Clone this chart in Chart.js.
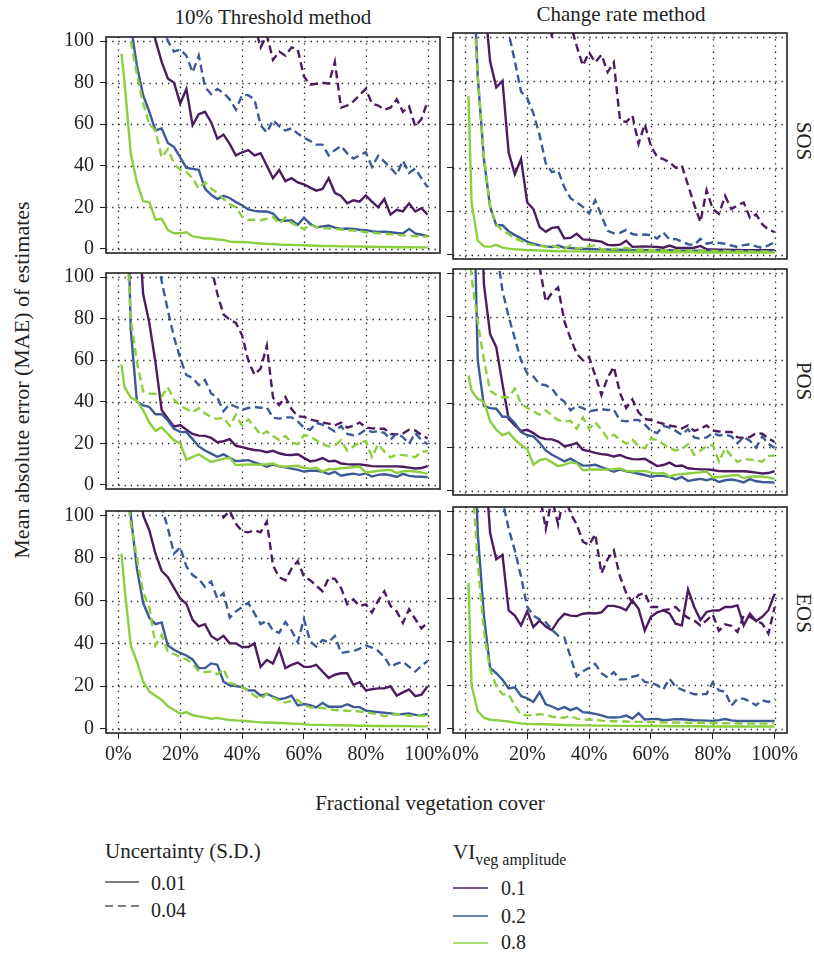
<!DOCTYPE html>
<html>
<head>
<meta charset="utf-8">
<title>MAE of phenology estimates vs fractional vegetation cover</title>
<script src="https://cdn.jsdelivr.net/npm/chart.js@4.4.1/dist/chart.umd.min.js"></script>
<style>
  html, body { margin: 0; padding: 0; background: #fff; }
  body { position: relative; width: 814px; height: 953px; overflow: hidden;
         font-family: "Liberation Serif", "DejaVu Serif", serif; color: #222; }
  canvas { position: absolute; }
  .t { position: absolute; white-space: nowrap; line-height: 1; }
  .c { transform: translate(-50%, -50%); }
  .l { transform: translateY(-50%); }
  .up { transform: translate(-50%, -50%) rotate(-90deg); }
  .down { transform: translate(-50%, -50%) rotate(90deg); }
  svg { position: absolute; overflow: visible; }
</style>
</head>
<body>

<div class="t c" style="left:273px; top:17px; font-size:21px;">10% Threshold method</div>
<div class="t c" style="left:621px; top:14px; font-size:21px;">Change rate method</div>

<div class="t down" style="left:803px; top:141px; font-size:21px;">SOS</div>
<div class="t down" style="left:803px; top:381px; font-size:21px;">POS</div>
<div class="t down" style="left:803px; top:613px; font-size:21px;">EOS</div>

<div class="t up" style="left:22px; top:380px; font-size:22px;">Mean absolute error (MAE) of estimates</div>
<div class="t c" style="left:430px; top:803px; font-size:21px;">Fractional vegetation cover</div>

<!-- legend: uncertainty -->
<div class="t l" style="left:105px; top:851px; font-size:21px;">Uncertainty (S.D.)</div>
<svg style="left:105px; top:881px;" width="34" height="2"><line x1="0" y1="1" x2="34" y2="1" stroke="#555" stroke-width="1.5"/></svg>
<div class="t l" style="left:151px; top:883px; font-size:20px;">0.01</div>
<svg style="left:105px; top:905px;" width="34" height="2"><line x1="0" y1="1" x2="34" y2="1" stroke="#555" stroke-width="1.5" stroke-dasharray="8 5"/></svg>
<div class="t l" style="left:151px; top:910px; font-size:20px;">0.04</div>

<!-- legend: amplitude -->
<div class="t l" style="left:453px; top:852px; font-size:21px;">VI<span style="font-size:16px; position:relative; top:6px;">veg amplitude</span></div>
<svg style="left:453px; top:887px;" width="35" height="2"><line x1="0" y1="1" x2="35" y2="1" stroke="#4b1c5f" stroke-width="1.5"/></svg>
<div class="t l" style="left:501px; top:888px; font-size:20px;">0.1</div>
<svg style="left:453px; top:915px;" width="35" height="2"><line x1="0" y1="1" x2="35" y2="1" stroke="#3c5a96" stroke-width="1.5"/></svg>
<div class="t l" style="left:501px; top:916px; font-size:20px;">0.2</div>
<svg style="left:453px; top:942px;" width="35" height="2"><line x1="0" y1="1" x2="35" y2="1" stroke="#8ccf3e" stroke-width="1.5"/></svg>
<div class="t l" style="left:501px; top:942px; font-size:20px;">0.8</div>

<script>
// fractional vegetation cover (%) at which MAE was evaluated
const fvc = [1, 2, 4, 6, 8, 10, 12, 14, 16, 18, 20, 22, 24, 26, 28, 30, 32, 34, 36, 38, 40,
  42, 44, 46, 48, 50, 52, 54, 56, 58, 60, 62, 64, 66, 68, 70, 72, 74, 76, 78, 80,
  82, 84, 86, 88, 90, 92, 94, 96, 98, 100];

const xTicks = [0, 20, 40, 60, 80, 100];
const yTicks = [0, 20, 40, 60, 80, 100];

// ---- 10% threshold method, SOS ----
const thrSos_a08_sd01 = [94, 80,
  46, 32, 23, 22.5, 14, 14.5, 9, 7.5, 7.5,
  8, 6, 5.5, 5, 5, 4.5, 4.3, 3.5, 3.3, 3.3,
  3.1, 2.8, 2.6, 2.4, 2.3, 2.1, 2, 1.9, 1.8, 1.7,
  1.6, 1.5, 1.4, 1.3, 1.3, 1.2, 1.2, 1.1, 1.1, 1,
  1, 0.9, 0.9, 0.9, 0.8, 0.8, 0.8, 0.7, 0.7, 0.7];
const thrSos_a08_sd04 = [160, 130,
  100, 84, 70, 60, 57, 44, 48, 41, 38,
  37, 34, 29, 32, 29, 27, 24, 21.5, 20, 15.5,
  14, 14, 13.8, 14.5, 15.5, 12, 15, 12.5, 11, 9.5,
  11.5, 10.5, 10, 9.8, 9.5, 9.3, 9, 8.8, 8.6, 8,
  7.8, 7.5, 7.3, 7, 6.8, 6.5, 6.3, 6.1, 6, 5.8];
const thrSos_a02_sd01 = [200, 160,
  108, 88, 74, 66, 57, 58, 51, 49, 44,
  39, 38.5, 38, 29, 26, 24, 25.5, 24.5, 22.5, 21,
  19, 18.3, 18, 18, 17, 13.8, 13.5, 13.8, 11.6, 15,
  12, 10.4, 10.8, 11.2, 10.2, 9.6, 9.8, 9.6, 9.2, 9,
  8.5, 8.1, 8.3, 8, 7.6, 7.4, 9.6, 7.4, 6.8, 6.1];
const thrSos_a02_sd04 = [250, 230,
  200, 175, 155, 140, 125, 110, 100, 95, 96,
  93, 85, 93, 78, 74.5, 77, 75, 72, 67, 74,
  74, 72, 59.5, 56, 62, 59, 57, 58, 55.5, 53.5,
  52, 50.2, 50.2, 45, 47.5, 49.5, 46, 43.5, 45, 46.5,
  39.5, 44.8, 42, 39, 35.7, 42.5, 36.5, 38.7, 34, 29.6];
const thrSos_a01_sd01 = [300, 270,
  220, 180, 150, 115, 100.5, 90, 82, 80, 70,
  77, 59.5, 64.8, 66, 61, 53, 55, 50.5, 45, 46.5,
  47.5, 45, 46, 40, 34, 38, 32.6, 34, 32, 31,
  29.5, 28, 28.8, 34, 27, 25.5, 22, 23.4, 22.7, 25.7,
  22.7, 20, 24, 16.5, 18.8, 18, 21.9, 18, 19.6, 16.5];
const thrSos_a01_sd04 = [400, 380,
  350, 320, 300, 280, 260, 240, 225, 210, 200,
  190, 180, 170, 160, 150, 140, 135, 128, 122, 118,
  112, 108, 97, 103, 91, 95, 93, 97, 96, 83,
  79, 79.5, 80, 79.5, 90, 68, 69, 71, 74, 77,
  70, 69, 67, 68, 72, 66, 68.6, 59, 62.5, 71];

// ---- change rate method, SOS ----
const chgSos_a08_sd01 = [73, 24,
  6.5, 3.8, 3.6, 4.5, 3.2, 2.8, 2.5, 2.3, 2.1,
  2, 1.9, 1.8, 1.7, 1.6, 1.6, 1.5, 1.5, 1.5, 1.4,
  1.4, 1.4, 1.3, 1.3, 1.3, 1.3, 1.2, 1.2, 1.2, 1.2,
  1.2, 1.1, 1.1, 1.1, 1.1, 1.1, 1.1, 1, 1, 1,
  1, 1, 1, 1, 1, 1, 1, 1, 1, 1];
const chgSos_a08_sd04 = [180, 130,
  82, 45, 22, 14, 11, 9.5, 7.5, 6.3, 5,
  4.5, 4.2, 3.6, 4.2, 3.4, 2.6, 4.3, 2.8, 3.2, 3.8,
  4.3, 2.5, 2.4, 2.6, 2.8, 3.1, 2.4, 2.2, 2.4, 2.1,
  2.2, 2, 2.1, 1.9, 2, 1.8, 1.9, 1.7, 1.8, 1.7,
  1.6, 1.7, 1.5, 1.6, 1.5, 1.5, 1.4, 1.5, 1.4, 1.4];
const chgSos_a02_sd01 = [200, 150,
  82, 44, 22, 13.5, 13.5, 10.8, 9, 7.5, 6,
  5, 4.3, 3.8, 3.5, 4.2, 3.2, 3, 2.8, 2.7, 2.6,
  2.5, 2.3, 2.4, 2.2, 2.3, 2.2, 2.1, 2.2, 2, 2.1,
  2, 1.9, 2, 1.9, 1.8, 1.9, 1.8, 1.8, 1.7, 1.8,
  1.7, 1.7, 1.7, 1.6, 1.7, 1.6, 1.6, 1.6, 1.6, 1.6];
const chgSos_a02_sd04 = [300, 280,
  240, 210, 180, 150, 125, 102, 89, 75, 72,
  65, 55, 42, 38, 38.7, 31, 26, 24, 22, 19,
  25, 18, 11, 9.8, 10, 11.4, 9.5, 9, 9.3, 9,
  7.4, 10.2, 7, 7.2, 6, 4.8, 4.4, 7.3, 5, 5.6,
  5.4, 5, 4.2, 3.5, 4.4, 4.8, 3.8, 3.1, 4.3, 5.8];
const chgSos_a01_sd01 = [300, 250,
  170, 120, 89, 77, 80, 47, 37, 44, 24,
  21, 12.7, 10.5, 12.3, 12.7, 7.5, 7.7, 9.6, 7, 6.8,
  6.4, 6, 4.5, 4.3, 4.6, 6.4, 3.6, 3.7, 3.8, 3.7,
  3.5, 3.2, 4.2, 3.2, 3.1, 3.1, 3.2, 4, 2.5, 2.4,
  2.3, 2.3, 2.2, 2.2, 2.1, 2.1, 2, 2, 2, 2];
const chgSos_a01_sd04 = [400, 380,
  350, 330, 310, 290, 270, 250, 235, 220, 205,
  190, 160, 130, 99.5, 130, 125, 106, 96, 87, 93,
  88.5, 92, 84, 88.5, 62, 61, 64, 51, 60, 50,
  45, 44, 42.5, 40, 41, 32, 23, 15, 29.6, 21,
  18.8, 27, 21, 22.7, 24, 17, 18.5, 14, 11.5, 10.4];

// ---- 10% threshold method, POS ----
const thrPos_a08_sd01 = [58, 47,
  42, 40.5, 36, 30, 26, 27.7, 24.5, 21.5, 20,
  12, 13.5, 14.7, 12.8, 11, 11.8, 12.6, 13, 9.5, 9.7,
  9.8, 9.8, 9.7, 9.9, 10.3, 9, 8.7, 9, 9.2, 8.2,
  7.8, 8.2, 6.4, 7.5, 7.6, 8, 8.2, 8.5, 8.8, 6,
  6.3, 6.7, 7, 7.2, 5.7, 6.5, 6.7, 6.4, 6, 5.3];
const thrPos_a08_sd04 = [180, 140,
  80, 59, 45, 44, 43.8, 42.5, 47, 41, 38,
  36.5, 35, 37, 34.5, 32.5, 31.8, 32.2, 28.5, 33.7, 28.5,
  31.5, 28, 24, 25.7, 23.5, 21.6, 23.5, 20.5, 19.5, 23.9,
  23.3, 21.5, 19.5, 18.5, 19, 21.4, 16.5, 18.5, 20.4, 21,
  13.4, 19.5, 16, 13.2, 14.6, 14.3, 13.9, 13.3, 16, 16.2];
const thrPos_a02_sd01 = [250, 200,
  75, 40, 38.3, 37.5, 34, 34, 31, 27, 25.5,
  25.4, 22, 18.5, 16.5, 15, 13.5, 14.7, 13, 11.5, 11.6,
  11.9, 10.8, 9.8, 8.7, 9.8, 8.9, 8.4, 7.8, 7.2, 6.4,
  6.8, 6.8, 6.3, 5.2, 6.3, 4.4, 5, 5.4, 4.8, 5.5,
  4, 4.8, 5.1, 4.6, 3.8, 5.3, 4.3, 4, 3.9, 3.7];
const thrPos_a02_sd04 = [280, 260,
  220, 190, 160, 140, 120, 98, 84, 71, 61,
  52.8, 51.5, 48, 50.5, 44, 42, 35.5, 38.8, 37.6, 36.1,
  37, 37.5, 37.1, 37.3, 32.3, 31.9, 32.5, 32.5, 30.5, 27.5,
  26.5, 29.8, 29, 27.5, 25.7, 28.3, 24.5, 23.9, 24.5, 26.6,
  25.4, 25.8, 25, 21.8, 24.8, 23, 19.8, 25, 21.5, 19.6];
const thrPos_a01_sd01 = [300, 270,
  200, 140, 92, 78, 59, 36, 32, 28, 28.8,
  26.5, 24.5, 23.7, 23.6, 22.6, 20.5, 21, 22, 18.8, 18.2,
  17.4, 16.8, 16.5, 15.7, 16.4, 15.2, 14.5, 14.4, 14.7, 13,
  11.3, 11.8, 12.9, 11.3, 11.6, 10.3, 10, 9.8, 9.8, 9.5,
  9, 8.9, 8.9, 8.9, 8.9, 8.7, 8.3, 7.9, 8.1, 9];
const thrPos_a01_sd04 = [500, 470,
  420, 380, 340, 310, 280, 250, 225, 200, 180,
  165, 150, 138, 115, 105, 92, 82, 79.5, 78, 72,
  60, 53, 56, 67, 42, 38.4, 42.3, 36.5, 33, 32.7,
  31.5, 30.8, 30, 29.5, 28.6, 30, 27.5, 28.5, 30, 27.7,
  27.2, 27, 27, 24.5, 24.3, 24.7, 26.5, 26.2, 24, 22.4];

// ---- change rate method, POS ----
const chgPos_a08_sd01 = [53, 46,
  42.3, 41, 32, 28, 25.5, 26.8, 23.5, 21, 19,
  12, 14, 14.7, 13, 11.3, 12, 13, 12.6, 9.4, 9.7,
  9.8, 9.6, 9.8, 9.9, 10.2, 9.1, 8.8, 9, 9.1, 8.3,
  7.9, 8.1, 6.5, 7.4, 7.6, 7.9, 8.2, 8.4, 8.8, 6.1,
  6.3, 6.6, 7, 7.2, 5.8, 6.4, 6.6, 6.4, 6.1, 5.4];
const chgPos_a08_sd04 = [120, 98,
  78, 60, 46, 44, 43, 43, 47, 40, 38,
  36.5, 35, 37, 34.5, 32.5, 31.8, 32.2, 28.5, 33.7, 28.5,
  31.5, 28, 24, 25.7, 23.5, 21.6, 23.5, 20.5, 19.5, 23.9,
  23.3, 21.5, 19.5, 18.5, 19, 21.4, 16.5, 18.5, 20.4, 21,
  13.4, 19.5, 16, 13.2, 14.6, 14.3, 13.9, 13.3, 16, 16.2];
const chgPos_a02_sd01 = [250, 180,
  60, 39, 38, 37.7, 34, 34, 31, 27, 25.5,
  25, 22, 18.5, 16.5, 15, 13.5, 14.7, 13, 11.5, 11.6,
  11.9, 10.8, 9.8, 8.7, 9.8, 8.9, 8.4, 7.8, 7.2, 6.4,
  6.8, 6.8, 6.3, 5.2, 6.3, 4.4, 5, 5.4, 4.8, 5.5,
  4, 4.8, 5.1, 4.6, 3.8, 5.3, 4.3, 4, 3.9, 3.7];
const chgPos_a02_sd04 = [250, 230,
  190, 165, 140, 112, 92, 80, 70, 60, 54,
  52.5, 49, 48.5, 47, 43, 41, 37, 39, 38, 36.5,
  37, 37.5, 37.1, 37.3, 32.3, 31.9, 32.5, 32.5, 30.5, 27.5,
  26.5, 29.8, 29, 27.5, 25.7, 28.3, 24.5, 23.9, 24.5, 26.6,
  25.4, 25.8, 25, 21.8, 24.8, 23, 19.8, 25, 21.5, 19.6];
const chgPos_a01_sd01 = [300, 250,
  170, 95, 72, 66, 49, 33, 30, 27.5, 28,
  26.5, 24.5, 23.7, 23.6, 22.6, 20.5, 21, 22, 18.8, 18.2,
  17.4, 16.8, 16.5, 15.7, 16.4, 15.2, 14.5, 14.4, 14.7, 13,
  11.3, 11.8, 12.9, 11.3, 11.6, 10.3, 10, 9.8, 9.8, 9.5,
  9, 8.9, 8.9, 8.9, 8.9, 8.7, 8.3, 7.9, 8.1, 9];
const chgPos_a01_sd04 = [400, 380,
  340, 300, 270, 240, 210, 185, 165, 150, 135,
  120, 103, 87, 91, 93.5, 78, 70, 63, 60, 61.5,
  53, 44, 52, 57, 45, 38, 42, 36, 33, 32.5,
  31.5, 30.8, 30, 29.5, 28.6, 30, 27.5, 28.5, 30, 27.7,
  27.2, 27, 27, 24.5, 24.3, 24.7, 26.5, 26.2, 24, 22.4];

// ---- 10% threshold method, EOS ----
const thrEos_a08_sd01 = [82, 66,
  39, 31.4, 22, 17.5, 15.5, 13.5, 10.5, 8.8, 7,
  7.8, 6.3, 5.8, 5.3, 4.7, 5.1, 4.5, 4.1, 3.9, 3.8,
  3.5, 3.2, 3, 2.9, 2.8, 2.7, 2.6, 2.4, 2.3, 2.1,
  1.9, 1.8, 1.8, 1.7, 1.6, 1.6, 1.5, 1.5, 1.4, 1.4,
  1.3, 1.3, 1.3, 1.2, 1.2, 1.2, 1.2, 1.1, 1.1, 1.1];
const thrEos_a08_sd04 = [150, 120,
  96, 80, 64, 57, 39, 44, 36, 35, 33.5,
  32.5, 30.5, 27, 26.5, 26.8, 25.5, 28, 21.5, 20.5, 19.5,
  17.8, 15.5, 14, 16.4, 14.5, 13.2, 12.3, 13, 13.5, 11,
  10, 9.9, 9.7, 9.2, 8.8, 8.6, 8.4, 8.3, 8.1, 7.8,
  7.2, 6.8, 5.8, 6.4, 6.9, 6.5, 6.1, 6.2, 6.1, 6.1];
const thrEos_a02_sd01 = [200, 150,
  100, 75, 59, 52, 49, 49.8, 39, 37, 35.5,
  34.3, 32.5, 28.4, 28.4, 30.6, 30, 22, 20.3, 20, 19.5,
  18, 17.9, 15.5, 16.4, 15, 13.8, 14.3, 15.5, 10.9, 11.6,
  11, 10, 12.1, 10.3, 10.3, 10.3, 11.5, 10.2, 10.1, 8.5,
  8.1, 7.8, 7.5, 7.2, 6.8, 6.9, 7.2, 6.5, 6.3, 6.9];
const thrEos_a02_sd04 = [250, 230,
  200, 175, 155, 140, 120, 104, 94, 82, 85,
  76, 72, 70, 66.5, 69, 61, 63.5, 52, 55, 57,
  59, 54, 49, 50.6, 46, 45, 50, 46, 40.6, 51.4,
  41, 38.5, 41.5, 40.6, 43.5, 35.5, 36, 36.3, 37.5, 39,
  38, 36.5, 33.5, 29, 30.5, 31.4, 29, 26.8, 29.5, 31.7];
const thrEos_a01_sd01 = [300, 260,
  200, 140, 100, 93, 82, 74, 71, 66, 61,
  58.5, 51, 48, 49, 43.5, 41.5, 43.5, 40, 40, 38.3,
  38.3, 40, 29, 32.2, 30.5, 37.5, 28.4, 29.9, 31, 29,
  29, 29.9, 26.8, 23.8, 25.3, 26, 26, 20.6, 21.8, 18,
  18.5, 18.9, 18.9, 19.9, 15.5, 17, 18.4, 15.3, 16, 19.9];
const thrEos_a01_sd04 = [500, 470,
  420, 380, 340, 300, 270, 240, 215, 195, 175,
  160, 145, 135, 125, 115, 105, 99, 102, 96, 92.5,
  92, 93, 92, 97, 76.5, 71, 69.5, 75, 78.5, 71.3,
  69.6, 67, 64.4, 70.6, 70.2, 66, 58.3, 60.6, 57.5, 58.3,
  54.4, 60, 64.4, 57.5, 55, 49.5, 56, 51.4, 47, 49.8];

// ---- change rate method, EOS ----
const chgEos_a08_sd01 = [67, 20,
  8, 5, 4.1, 3.9, 3.6, 3.3, 2.8, 2.4, 2.2,
  2.1, 2, 2, 1.9, 1.8, 1.7, 1.6, 1.5, 1.5, 1.5,
  1.4, 1.4, 1.4, 1.3, 1.3, 1.3, 1.3, 1.2, 1.2, 1.2,
  1.2, 1.2, 1.1, 1.1, 1.1, 1.1, 1.1, 1.1, 1, 1,
  1, 1, 1, 1, 1, 1, 1, 1, 1, 1];
const chgEos_a08_sd04 = [160, 120,
  76, 45, 27, 19.5, 15.8, 15.8, 10.5, 6.5, 6.1,
  6.2, 6.7, 6.3, 5.6, 5, 5.1, 5.8, 4.6, 4.2, 4.1,
  4.1, 3.7, 3.5, 3.4, 3.3, 3.3, 3.2, 3.1, 3.1, 3,
  3, 2.9, 2.9, 2.8, 2.8, 2.7, 2.7, 2.7, 2.6, 2.6,
  2.5, 2.5, 2.5, 2.4, 2.4, 2.4, 2.4, 2.3, 2.3, 2.3];
const chgEos_a02_sd01 = [250, 180,
  90, 52, 28, 25.5, 22.5, 18.5, 19, 15, 13.9,
  12.3, 16.8, 11.2, 10.2, 8.8, 9.9, 8.5, 9.6, 7.6, 7.3,
  6.8, 6.1, 5.2, 5.1, 5.3, 6, 4.6, 7.1, 4.2, 4.4,
  4.5, 3.9, 4.1, 4.4, 4.3, 4.1, 3.9, 3.8, 3.7, 3.6,
  3.9, 4.4, 3.8, 3.5, 3.6, 3.5, 3.5, 3.5, 3.5, 3.5];
const chgEos_a02_sd04 = [250, 230,
  200, 175, 150, 128, 105, 92, 82, 70, 56,
  52, 50.3, 49, 45.5, 42.8, 42, 33, 24, 26.4, 28,
  29.8, 25.5, 23.5, 26, 22.6, 22.8, 23.9, 24.5, 21.5, 21,
  20, 18, 23, 19.2, 18, 16.8, 15.8, 15.8, 16, 21.3,
  17.6, 17, 10.5, 13.8, 13.8, 12.5, 10.8, 13, 12.3, 13.8];
const chgEos_a01_sd01 = [300, 260,
  190, 130, 90, 78, 80, 54.4, 52, 47.5, 54,
  46.8, 49.8, 47, 45.3, 49.8, 52.8, 52, 51.8, 52.9, 53.2,
  53, 53.5, 56.5, 56.5, 55.8, 54.5, 59, 55.2, 45.2, 51.5,
  53.5, 54.4, 53, 48.3, 47.5, 64, 56, 50, 53.7, 54.4,
  54.4, 56, 56, 56.7, 47.5, 52.9, 49.5, 51.5, 54.5, 62];
const chgEos_a01_sd04 = [400, 380,
  340, 300, 260, 230, 200, 180, 160, 145, 132,
  125, 108, 92, 106, 94, 108, 99, 94, 86, 84.5,
  89.5, 71.5, 78, 82, 70, 62.5, 58, 61.5, 62.5, 56,
  56, 54.5, 55, 56, 53, 51, 49.8, 47.5, 49.8, 52.5,
  45, 48, 47.3, 44.5, 52, 51.4, 49.8, 48.3, 43.7, 56];

// line colours per VI amplitude (0.8, 0.2, 0.1) and dash per S.D. (0.01, 0.04)
const ampColors = ['#8ccf3e', '#3c5a96', '#4b1c5f'];
const sdDash = [[], [8, 4.5]];

// panel boxes in page pixels
const colLeft = [106, 453];
const rowTop = [33, 269, 507];
const boxW = 334;
const boxH = 226;

const panels = [
  { row: 0, col: 0, lines: [thrSos_a08_sd01, thrSos_a08_sd04, thrSos_a02_sd01, thrSos_a02_sd04, thrSos_a01_sd01, thrSos_a01_sd04] },
  { row: 0, col: 1, lines: [chgSos_a08_sd01, chgSos_a08_sd04, chgSos_a02_sd01, chgSos_a02_sd04, chgSos_a01_sd01, chgSos_a01_sd04] },
  { row: 1, col: 0, lines: [thrPos_a08_sd01, thrPos_a08_sd04, thrPos_a02_sd01, thrPos_a02_sd04, thrPos_a01_sd01, thrPos_a01_sd04] },
  { row: 1, col: 1, lines: [chgPos_a08_sd01, chgPos_a08_sd04, chgPos_a02_sd01, chgPos_a02_sd04, chgPos_a01_sd01, chgPos_a01_sd04] },
  { row: 2, col: 0, lines: [thrEos_a08_sd01, thrEos_a08_sd04, thrEos_a02_sd01, thrEos_a02_sd04, thrEos_a01_sd01, thrEos_a01_sd04] },
  { row: 2, col: 1, lines: [chgEos_a08_sd01, chgEos_a08_sd04, chgEos_a02_sd01, chgEos_a02_sd04, chgEos_a01_sd01, chgEos_a01_sd04] }
];

Chart.defaults.font.family = '"Liberation Serif", "DejaVu Serif", serif';
Chart.defaults.color = '#222';

// dotted grid under the lines, solid frame over them
const panelFrame = {
  id: 'panelFrame',
  beforeDatasetsDraw(chart) {
    const { ctx, chartArea: a, scales } = chart;
    ctx.save();
    ctx.strokeStyle = '#1a1a1a';
    ctx.lineWidth = 1.3;
    ctx.setLineDash([1.3, 4.9]);
    xTicks.forEach(v => {
      const px = Math.round(scales.x.getPixelForValue(v)) + 0.5;
      ctx.beginPath();
      ctx.moveTo(px, a.top);
      ctx.lineTo(px, a.bottom);
      ctx.stroke();
    });
    yTicks.forEach(v => {
      const py = Math.round(scales.y.getPixelForValue(v)) + 0.5;
      ctx.beginPath();
      ctx.moveTo(a.left, py);
      ctx.lineTo(a.right, py);
      ctx.stroke();
    });
    ctx.restore();
  },
  afterDatasetsDraw(chart) {
    const { ctx, chartArea: a } = chart;
    ctx.save();
    ctx.strokeStyle = '#222';
    ctx.lineWidth = 1.6;
    ctx.strokeRect(a.left, a.top, a.right - a.left, a.bottom - a.top);
    ctx.restore();
  }
};

panels.forEach(p => {
  const bottomRow = p.row === 2;
  const axisW = p.col === 0 ? 57 : 16;
  const padTop = 14;
  const padRight = 26;
  const padBottom = bottomRow ? 0 : 12;
  const xAxisH = bottomRow ? 44 : 0;
  const w = axisW + boxW + padRight;
  const h = padTop + boxH + padBottom + xAxisH;

  const cv = document.createElement('canvas');
  cv.width = w;
  cv.height = h;
  cv.style.left = (colLeft[p.col] - axisW) + 'px';
  cv.style.top = (rowTop[p.row] - padTop) + 'px';
  cv.style.width = w + 'px';
  cv.style.height = h + 'px';
  document.body.appendChild(cv);

  const tickGrid = { drawOnChartArea: false, drawTicks: true, tickLength: 6, tickColor: '#222', tickWidth: 1, color: '#222' };

  new Chart(cv.getContext('2d'), {
    type: 'line',
    data: {
      datasets: p.lines.map((vals, k) => ({
        data: fvc.map((x, j) => ({ x: x, y: vals[j] })),
        borderColor: ampColors[Math.floor(k / 2)],
        borderWidth: 2.4,
        borderDash: sdDash[k % 2],
        pointRadius: 0,
        fill: false,
        tension: 0,
        clip: 0
      }))
    },
    options: {
      responsive: false,
      devicePixelRatio: 1,
      animation: false,
      events: [],
      layout: { autoPadding: false, padding: { top: padTop, right: padRight, bottom: padBottom, left: 0 } },
      plugins: { legend: { display: false }, tooltip: { enabled: false } },
      scales: {
        x: {
          type: 'linear',
          min: -4,
          max: 104,
          display: bottomRow,
          afterBuildTicks: s => { s.ticks = xTicks.map(v => ({ value: v })); },
          afterFit: s => { s.height = xAxisH; },
          grid: tickGrid,
          border: { display: false },
          ticks: { font: { size: 20 }, color: '#222', padding: 4, maxRotation: 0, autoSkip: false, callback: v => v + '%' }
        },
        y: {
          type: 'linear',
          min: -2,
          max: 102,
          afterBuildTicks: s => { s.ticks = yTicks.map(v => ({ value: v })); },
          afterFit: s => { s.width = axisW; },
          grid: tickGrid,
          border: { display: false },
          ticks: { display: p.col === 0, font: { size: 20 }, color: '#222', padding: 6 }
        }
      }
    },
    plugins: [panelFrame]
  });
});
</script>
</body>
</html>
